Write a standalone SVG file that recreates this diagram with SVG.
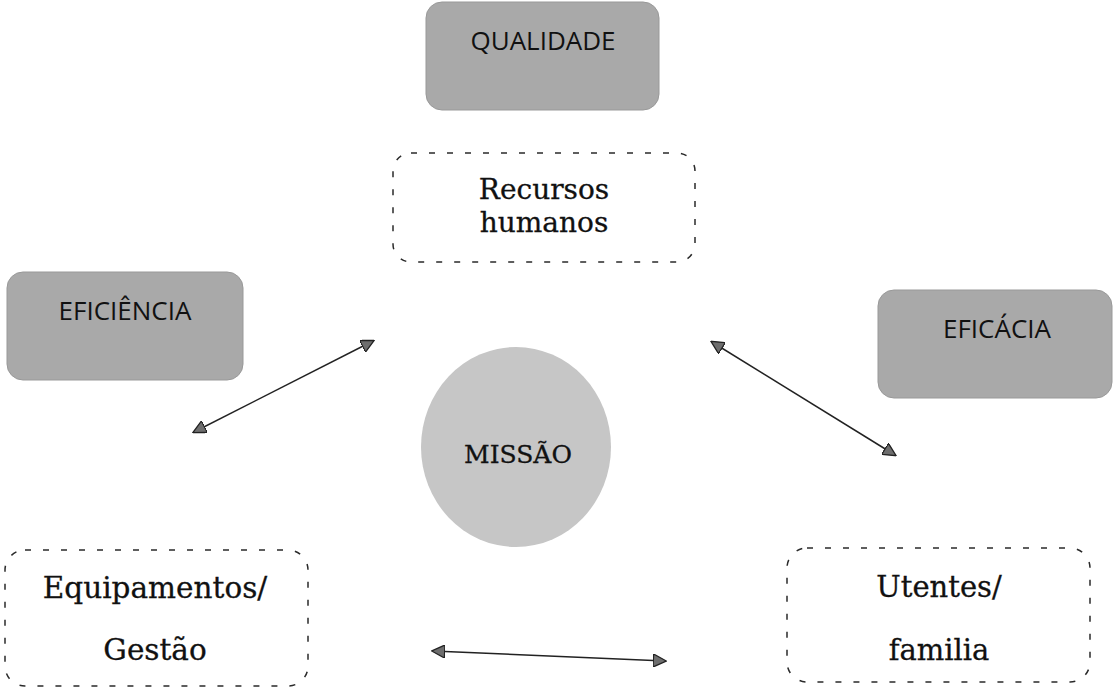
<svg xmlns="http://www.w3.org/2000/svg" width="1114" height="690" viewBox="0 0 1114 690">
<defs>
<style>
.gray{fill:#a9a9a9;stroke:#999;stroke-width:1}
.dash{fill:none;stroke:#2a2a2a;stroke-width:1.5;stroke-dasharray:6 12}
.sans{font-family:"Open Sans","Liberation Sans",sans-serif;font-size:26px;fill:#111;text-anchor:middle}
.serif{font-family:"DejaVu Serif","Liberation Serif",serif;fill:#111;stroke:#111;stroke-width:0.3;text-anchor:middle}
.conn{stroke:#222;stroke-width:1.5;fill:none;marker-start:url(#ah);marker-end:url(#ah)}
</style>
<marker id="ah" viewBox="0 0 10 10" refX="9" refY="5" markerWidth="14" markerHeight="13" markerUnits="userSpaceOnUse" orient="auto-start-reverse">
<path d="M0,0 L10,5 L0,10 Z" fill="#6e6e6e" stroke="#222" stroke-width="1"/>
</marker>
</defs>
<rect width="1114" height="690" fill="#fff"/>
<g id="qualidade">
<rect class="gray" x="426" y="2" width="233" height="108" rx="16"/>
<text class="sans" x="543" y="50">QUALIDADE</text>
</g>
<g id="recursos">
<rect class="dash" x="393" y="153" width="302" height="109" rx="18"/>
<text class="serif" x="544" y="199" font-size="28">Recursos</text>
<text class="serif" x="544" y="232" font-size="28">humanos</text>
</g>
<g id="eficiencia">
<rect class="gray" x="7" y="272" width="236" height="108" rx="16"/>
<text class="sans" x="125" y="320">EFICIÊNCIA</text>
</g>
<g id="eficacia">
<rect class="gray" x="878" y="290" width="234" height="108" rx="16"/>
<text class="sans" x="997" y="338">EFICÁCIA</text>
</g>
<g id="missao">
<ellipse cx="516" cy="447" rx="95" ry="100" fill="#c6c6c6"/>
<text class="serif" x="518" y="463" font-size="25">MISSÃO</text>
</g>
<g id="equipamentos">
<rect class="dash" x="5" y="550" width="303" height="136" rx="20"/>
<text class="serif" x="155" y="598" font-size="29.5">Equipamentos/</text>
<text class="serif" x="155" y="660" font-size="29.5">Gestão</text>
</g>
<g id="utentes">
<rect class="dash" x="787" y="548" width="303" height="134" rx="20"/>
<text class="serif" x="939" y="597" font-size="29">Utentes/</text>
<text class="serif" x="939" y="660" font-size="29">familia</text>
</g>
<g id="connectors">
<path class="conn" d="M194,432 L373,341"/>
<path class="conn" d="M712,342 L895,455"/>
<path class="conn" d="M433,651 L665,661"/>
</g>
</svg>
